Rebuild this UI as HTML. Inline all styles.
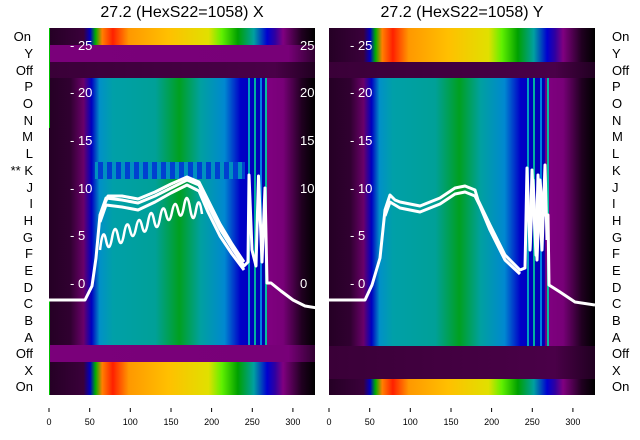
<!DOCTYPE html>
<html><head><style>
body{margin:0;background:#fff;}
svg{display:block;font-family:"Liberation Sans","DejaVu Sans",sans-serif;}
</style></head><body>
<svg width="640" height="440" viewBox="0 0 640 440" xmlns="http://www.w3.org/2000/svg">
<defs>
<linearGradient id="main" x1="0" x2="1" y1="0" y2="0">
<stop offset="0" stop-color="#250025"/><stop offset="0.08" stop-color="#300030"/>
<stop offset="0.13" stop-color="#6a006a"/><stop offset="0.16" stop-color="#0000c0"/>
<stop offset="0.19" stop-color="#0090c8"/><stop offset="0.24" stop-color="#00a0a8"/>
<stop offset="0.4" stop-color="#00a098"/><stop offset="0.49" stop-color="#00a020"/>
<stop offset="0.57" stop-color="#00a0a0"/><stop offset="0.66" stop-color="#0088d0"/>
<stop offset="0.72" stop-color="#0000c8"/><stop offset="0.81" stop-color="#0000b0"/>
<stop offset="0.815" stop-color="#800080"/><stop offset="0.88" stop-color="#780078"/>
<stop offset="0.95" stop-color="#200020"/><stop offset="1" stop-color="#000"/>
</linearGradient>
<linearGradient id="spec" x1="0" x2="1" y1="0" y2="0">
<stop offset="0" stop-color="#250025"/><stop offset="0.13" stop-color="#3a003a"/>
<stop offset="0.155" stop-color="#0000c0"/><stop offset="0.175" stop-color="#00b000"/>
<stop offset="0.2" stop-color="#ff8000"/><stop offset="0.24" stop-color="#ff2000"/>
<stop offset="0.3" stop-color="#ff9800"/><stop offset="0.45" stop-color="#ffc000"/>
<stop offset="0.6" stop-color="#e0e000"/><stop offset="0.65" stop-color="#60f000"/>
<stop offset="0.71" stop-color="#00a000"/><stop offset="0.77" stop-color="#00a0a0"/>
<stop offset="0.82" stop-color="#0000d0"/><stop offset="0.85" stop-color="#3000a0"/>
<stop offset="0.88" stop-color="#800080"/><stop offset="0.95" stop-color="#200020"/>
<stop offset="1" stop-color="#000"/>
</linearGradient>
<linearGradient id="purp" x1="0" x2="1"><stop offset="0" stop-color="#7a007a"/><stop offset="0.9" stop-color="#780078"/><stop offset="1" stop-color="#300030"/></linearGradient>
<linearGradient id="dark" x1="0" x2="1"><stop offset="0" stop-color="#3a0038"/><stop offset="0.85" stop-color="#4a0048"/><stop offset="1" stop-color="#200020"/></linearGradient>
<pattern id="stripes" width="9" height="17" patternUnits="userSpaceOnUse"><rect width="9" height="17" fill="#0040d0"/><rect x="4" width="4" height="17" fill="#0090c0"/></pattern>
<clipPath id="cl"><rect x="49" y="28" width="266" height="367"/></clipPath>
<clipPath id="cr"><rect x="329" y="28" width="266" height="367"/></clipPath>
</defs>
<text x="182" y="17" font-size="16" text-anchor="middle">27.2 (HexS22=1058) X</text>
<text x="462" y="17" font-size="16" text-anchor="middle">27.2 (HexS22=1058) Y</text>

<g>
<rect x="49" y="28" width="266" height="17" fill="url(#spec)"/>
<rect x="49" y="45" width="266" height="17" fill="url(#purp)"/>
<rect x="49" y="62" width="266" height="16" fill="url(#dark)"/>
<rect x="49" y="78" width="266" height="267" fill="url(#main)"/>
<rect x="95" y="162" width="150" height="17" fill="url(#stripes)"/>
<rect x="49" y="345" width="266" height="17" fill="url(#purp)"/>
<rect x="49" y="362" width="266" height="33" fill="url(#spec)"/>
<rect x="248" y="78" width="2" height="267" fill="#00a0c0"/>
<rect x="254" y="78" width="2" height="267" fill="#00b0a0"/>
<rect x="260" y="78" width="2" height="267" fill="#0080e0"/>
<rect x="265" y="78" width="2" height="267" fill="#00c0a0"/>
<rect x="49" y="28" width="1" height="100" fill="#00c000"/>
<rect x="49" y="300" width="1" height="95" fill="#00c000"/>
<g clip-path="url(#cl)" fill="none" stroke="#fff" stroke-width="3" stroke-linejoin="round">
<polyline points="49,300 85,300 92,286 96,258 100,215 106,198 122,200 138,203 155,196 171,188 187,180 199,185 208,205 220,229 232,248 244,266 248,262 249,175 252,250 256,266 258.5,176 262,262 265,188 267,283 271,283 281,291 293,300 305,306 317,308"/>
<polyline points="100,222 106,205 122,207 138,210 155,202 171,193 187,185 199,191 208,212 220,236 232,254 244,270"/>
<polyline points="102,210 108,196 122,196 138,199 155,192 171,184 187,177 199,182 208,200 220,224 232,244 244,262"/>
<path d="M100,250 Q103,225 106,240 T112,238 T118,236 T124,234 T130,230 T136,228 T142,226 T148,222 T154,220 T160,218 T166,214 T172,212 T178,210 T184,206 T190,208 T196,210 T202,214" stroke-width="2.5"/>
</g>
<g fill="#fff" font-size="13">
<text x="70" y="50">- 25</text><text x="70" y="97">- 20</text><text x="70" y="145">- 15</text>
<text x="70" y="193">- 10</text><text x="70" y="240">- 5</text><text x="70" y="288">- 0</text>
<text x="300" y="50">25</text><text x="300" y="97">20</text><text x="300" y="145">15</text>
<text x="300" y="193">10</text><text x="300" y="288">0</text>
</g>
</g>

<g>
<rect x="329" y="28" width="266" height="34" fill="url(#spec)"/>
<rect x="329" y="62" width="266" height="16" fill="url(#dark)"/>
<rect x="329" y="78" width="266" height="268" fill="url(#main)"/>
<rect x="329" y="346" width="266" height="33" fill="url(#dark)"/>
<rect x="329" y="379" width="266" height="16" fill="url(#spec)"/>
<rect x="527" y="78" width="2" height="268" fill="#00a0c0"/>
<rect x="533" y="78" width="2" height="268" fill="#00b0a0"/>
<rect x="540" y="78" width="2" height="268" fill="#0080e0"/>
<rect x="547" y="78" width="2" height="268" fill="#00c0a0"/>
<g clip-path="url(#cr)" fill="none" stroke="#fff" stroke-width="3" stroke-linejoin="round">
<polyline points="329,300 365,300 372,285 380,258 385,210 390,195 395,200 400,202 420,206 440,198 455,188 465,186 475,190 478,200 490,225 505,255 520,270 525,268 527,168 530,250 533,180 537,260 540,180 543,215 548,215 549,285 560,292 575,302 595,305"/>
<polyline points="385,216 390,202 400,208 420,212 440,204 455,194 465,192 475,196 480,206 490,230 505,260 520,274"/>
<polyline points="530,250 532,170 536,255 538,175 542,250 545,165 547,240"/>
</g>
<g fill="#fff" font-size="13">
<text x="350" y="50">- 25</text><text x="350" y="97">- 20</text><text x="350" y="145">- 15</text>
<text x="350" y="193">- 10</text><text x="350" y="240">- 5</text><text x="350" y="288">- 0</text>
</g>
</g>

<g font-size="13" text-anchor="end">
<text x="31" y="41">On</text><text x="33" y="58">Y</text><text x="33" y="75">Off</text>
<text x="33" y="91">P</text><text x="33" y="108">O</text><text x="33" y="125">N</text>
<text x="33" y="141">M</text><text x="33" y="158">L</text><text x="33" y="175">** K</text>
<text x="33" y="192">J</text><text x="33" y="208">I</text><text x="33" y="225">H</text>
<text x="33" y="242">G</text><text x="33" y="258">F</text><text x="33" y="275">E</text>
<text x="33" y="292">D</text><text x="33" y="308">C</text><text x="33" y="325">B</text>
<text x="33" y="342">A</text><text x="33" y="358">Off</text><text x="33" y="375">X</text>
<text x="33" y="391">On</text>
</g>
<g font-size="13">
<text x="612" y="41">On</text><text x="612" y="58">Y</text><text x="612" y="75">Off</text>
<text x="612" y="91">P</text><text x="612" y="108">O</text><text x="612" y="125">N</text>
<text x="612" y="141">M</text><text x="612" y="158">L</text><text x="612" y="175">K</text>
<text x="612" y="192">J</text><text x="612" y="208">I</text><text x="612" y="225">H</text>
<text x="612" y="242">G</text><text x="612" y="258">F</text><text x="612" y="275">E</text>
<text x="612" y="292">D</text><text x="612" y="308">C</text><text x="612" y="325">B</text>
<text x="612" y="342">A</text><text x="612" y="358">Off</text><text x="612" y="375">X</text>
<text x="612" y="391">On</text>
</g>

<g stroke="#000" stroke-width="1">
<line x1="49" y1="408" x2="49" y2="412"/><line x1="89.7" y1="408" x2="89.7" y2="412"/><line x1="130.3" y1="408" x2="130.3" y2="412"/><line x1="171" y1="408" x2="171" y2="412"/><line x1="211.6" y1="408" x2="211.6" y2="412"/><line x1="252.3" y1="408" x2="252.3" y2="412"/><line x1="292.9" y1="408" x2="292.9" y2="412"/>
<line x1="329" y1="408" x2="329" y2="412"/><line x1="369.7" y1="408" x2="369.7" y2="412"/><line x1="410.3" y1="408" x2="410.3" y2="412"/><line x1="451" y1="408" x2="451" y2="412"/><line x1="491.6" y1="408" x2="491.6" y2="412"/><line x1="532.3" y1="408" x2="532.3" y2="412"/><line x1="572.9" y1="408" x2="572.9" y2="412"/>
</g>
<g font-size="9" text-anchor="middle">
<text x="49" y="425">0</text><text x="89.7" y="425">50</text><text x="130.3" y="425">100</text><text x="171" y="425">150</text><text x="211.6" y="425">200</text><text x="252.3" y="425">250</text><text x="292.9" y="425">300</text>
<text x="329" y="425">0</text><text x="369.7" y="425">50</text><text x="410.3" y="425">100</text><text x="451" y="425">150</text><text x="491.6" y="425">200</text><text x="532.3" y="425">250</text><text x="572.9" y="425">300</text>
</g>
</svg>
</body></html>
